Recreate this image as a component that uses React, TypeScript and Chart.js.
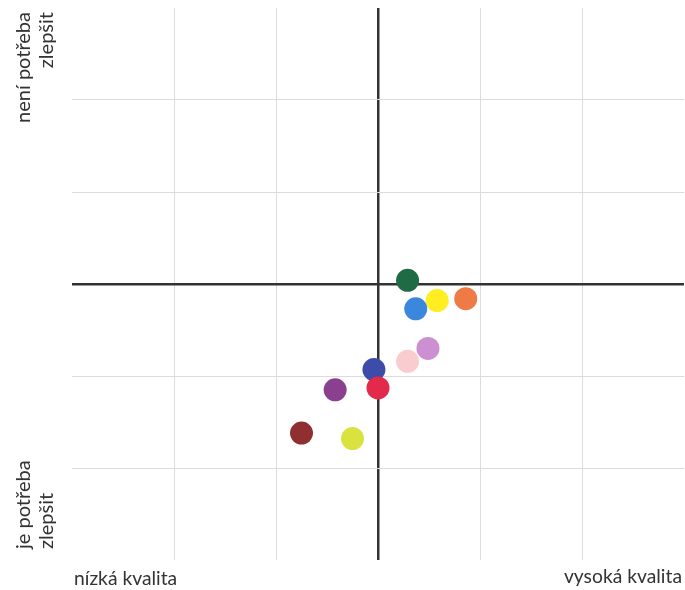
import React, { useEffect, useRef } from "react";
import { Chart, registerables } from "chart.js";

Chart.register(...registerables);

// Point data (quality vs. need to improve)
const pointIds = ["A", "B", "C", "D", "E", "F", "G", "H", "I", "J", "K"];
const qualityValues = [0.29, 0.86, 0.58, 0.37, 0.49, 0.29, -0.04, 0.0, -0.42, -0.75, -0.25];
const improveValues = [0.04, -0.16, -0.18, -0.27, -0.70, -0.84, -0.93, -1.13, -1.15, -1.62, -1.68];

const pointColors = [
  "#1f6b45",
  "#ee7a45",
  "#ffee22",
  "#3b87dd",
  "#cc8fd2",
  "#f9cdd0",
  "#3d4ca8",
  "#e32a4c",
  "#8b3f8f",
  "#8f2f2f",
  "#d9e23f",
];

const axisMin = -3;
const axisMax = 3;

const labelLowQuality = "nízká kvalita";
const labelHighQuality = "vysoká kvalita";
const labelNoNeedLines = ["není potřeba", "zlepšit"];
const labelNeedLines = ["je potřeba", "zlepšit"];

const gridColor = (ctx: any) => {
  const v = ctx.tick ? ctx.tick.value : null;
  if (v === 0) return "#333333";
  if (v === axisMin || v === axisMax) return "rgba(0,0,0,0)";
  return "#dcdcdc";
};
const gridWidth = (ctx: any) => (ctx.tick && ctx.tick.value === 0 ? 2.5 : 1);

export default function App() {
  const canvasRef = useRef<HTMLCanvasElement | null>(null);

  useEffect(() => {
    if (!canvasRef.current) return;
    const chart = new Chart(canvasRef.current, {
      type: "scatter",
      data: {
        datasets: [
          {
            label: "body",
            data: pointIds.map((id, i) => ({ x: qualityValues[i], y: improveValues[i] })),
            pointBackgroundColor: pointColors,
            pointBorderWidth: 0,
            pointRadius: 11.5,
            pointHoverRadius: 11.5,
          },
        ],
      },
      options: {
        animation: false,
        responsive: false,
        maintainAspectRatio: false,
        layout: { autoPadding: false, padding: { left: 72, right: 1, top: 8, bottom: 30 } },
        plugins: { legend: { display: false }, tooltip: { enabled: false } },
        scales: {
          x: {
            type: "linear",
            min: axisMin,
            max: axisMax,
            ticks: { display: false, stepSize: 1 },
            border: { display: false },
            grid: { color: gridColor, lineWidth: gridWidth, drawTicks: false },
          },
          y: {
            type: "linear",
            min: axisMin,
            max: axisMax,
            ticks: { display: false, stepSize: 1 },
            border: { display: false },
            grid: { color: gridColor, lineWidth: gridWidth, drawTicks: false },
          },
        },
      },
    });
    return () => chart.destroy();
  }, []);

  const textStyle: React.CSSProperties = {
    position: "absolute",
    fontFamily: "Lato, 'Open Sans', sans-serif",
    fontSize: 19.3,
    lineHeight: "24px",
    color: "#333",
    whiteSpace: "nowrap",
  };

  const rotStyle = (top: number, align: "left" | "right"): React.CSSProperties => ({
    position: "absolute",
    left: 11,
    top: top,
    width: 130,
    height: 46,
    transformOrigin: "0 0",
    transform: "rotate(-90deg)",
    textAlign: align,
    fontFamily: "Lato, 'Open Sans', sans-serif",
    fontSize: 20,
    lineHeight: "23px",
    color: "#333",
    whiteSpace: "nowrap",
  });

  return (
    <div style={{ position: "fixed", left: 0, top: 0, width: 685, height: 590, background: "#fff", overflow: "hidden" }}>
      <canvas ref={canvasRef} width={685} height={590} style={{ width: 685, height: 590, display: "block" }} />
      <div style={rotStyle(142, "right")}>
        {labelNoNeedLines.map((l) => (
          <div key={l}>{l}</div>
        ))}
      </div>
      <div style={rotStyle(549, "left")}>
        {labelNeedLines.map((l) => (
          <div key={l}>{l}</div>
        ))}
      </div>
      <div style={{ ...textStyle, left: 74, top: 566 }}>{labelLowQuality}</div>
      <div style={{ ...textStyle, left: 0, top: 564, width: 682, textAlign: "right" }}>{labelHighQuality}</div>
    </div>
  );
}
